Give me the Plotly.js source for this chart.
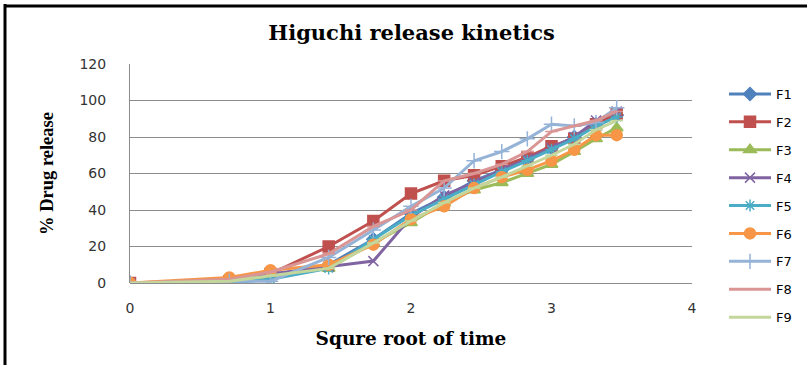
<!DOCTYPE html>
<html>
<head>
<meta charset="utf-8">
<script src="https://cdn.plot.ly/plotly-3.0.1.min.js"></script>
<style>
  html, body { margin: 0; padding: 0; background: #fff; }
  #chart { width: 807px; height: 365px; }
</style>
</head>
<body>
<div id="chart"></div>
<script>
// Square root of sampling time
const sqrtTime = [0, 0.707, 1, 1.414, 1.732, 2, 2.236, 2.449, 2.646, 2.828, 3, 3.162, 3.317, 3.464];

// Cumulative % drug release per formulation
const F1 = [0, 1, 4, 10, 24, 38, 47, 56, 62, 68, 74, 80, 87, 92];
const F2 = [0, 1, 5, 20, 34, 49, 56, 59, 64, 69, 75, 79, 87, 93];
const F3 = [0, 0, 4, 8, 22, 33, 44, 51, 55, 60, 65, 72, 79, 85];
const F4 = [0, 1, 5, 9, 12, 36, 48, 55, 62, 68, 74, 80, 89, 94];
const F5 = [0, 0, 2, 8, 24, 37, 46, 54, 61, 67, 73, 79, 86, 91];
const F6 = [0, 3, 7, 10, 21, 35, 42, 52, 58, 62, 67, 73, 81, 81];
const F7 = [0, 1, 1, 14, 29, 42, 52, 67, 72, 79, 87, 86, 88, 96];
const F8 = [0, 2, 6, 16, 31, 40, 56, 60, 65, 72, 83, 86, 89, 94];
const F9 = [0, 1, 4, 8, 22, 34, 44, 52, 58, 64, 70, 76, 84, 89];

const seriesNames = ['F1', 'F2', 'F3', 'F4', 'F5', 'F6', 'F7', 'F8', 'F9'];
const seriesData = [F1, F2, F3, F4, F5, F6, F7, F8, F9];

const styles = [
  { color: '#4F81BD', symbol: 'diamond', size: 10 },
  { color: '#C0504D', symbol: 'square', size: 11 },
  { color: '#9BBB59', symbol: 'triangle-up', size: 11 },
  { color: '#8064A2', symbol: 'x-thin-open', size: 10 },
  { color: '#4BACC6', symbol: 'asterisk-open', size: 10 },
  { color: '#F79646', symbol: 'circle', size: 11 },
  { color: '#95B3D7', symbol: 'cross-thin-open', size: 11 },
  { color: '#D99694', symbol: 'line-ew-open', size: 9 },
  { color: '#C3D69B', symbol: 'line-ew-open', size: 9 }
];

const traces = seriesNames.map((name, i) => ({
  type: 'scatter',
  mode: 'lines+markers',
  name: name,
  legendgroup: name,
  x: sqrtTime,
  y: seriesData[i],
  line: { color: styles[i].color, width: 3 },
  marker: {
    color: styles[i].color,
    symbol: styles[i].symbol,
    size: styles[i].size,
    line: { color: styles[i].color, width: 1.5 }
  }
}));

// Outer frame (left and top edges) in paper coordinates
const L = 130, T = 64, W = 562, H = 219;
const px = p => (p - L) / W;
const py = p => (T + H - p) / H;

const layout = {
  width: 807,
  height: 365,
  margin: { l: L, r: 807 - L - W, t: T, b: 365 - T - H, autoexpand: false },
  paper_bgcolor: '#ffffff',
  plot_bgcolor: '#ffffff',
  showlegend: true,
  title: {
    text: '<b>Higuchi release kinetics</b>',
    font: { family: 'DejaVu Serif', size: 21, color: '#000' },
    x: 0.51, xanchor: 'center',
    y: 0.91, yanchor: 'middle', yref: 'container'
  },
  xaxis: {
    range: [0, 4],
    dtick: 1,
    tick0: 0,
    showgrid: false,
    zeroline: false,
    showline: false,
    ticks: '',
    ticklabelstandoff: 15,
    tickfont: { family: 'DejaVu Sans', size: 14, color: '#333' },
    title: {
      text: '<b>Squre root of time</b>',
      font: { family: 'DejaVu Serif', size: 18.5, color: '#000' },
      standoff: 17
    }
  },
  yaxis: {
    range: [0, 120],
    dtick: 20,
    tick0: 0,
    showgrid: true,
    gridcolor: '#8c8c8c',
    gridwidth: 1,
    zeroline: true,
    zerolinecolor: '#8c8c8c',
    zerolinewidth: 1,
    showline: true,
    linecolor: '#8c8c8c',
    linewidth: 1,
    ticks: '',
    ticklabelstandoff: 20,
    tickfont: { family: 'DejaVu Sans', size: 14, color: '#333' },
    title: {
      text: '<b>% Drug release</b>',
      font: { family: 'Liberation Serif', size: 18.5, color: '#000' },
      standoff: 20
    }
  },
  legend: {
    x: px(724), xanchor: 'left',
    y: py(79), yanchor: 'top',
    bgcolor: 'rgba(0,0,0,0)',
    borderwidth: 0,
    tracegroupgap: 8,
    itemwidth: 42,
    maxheight: 400,
    font: { family: 'DejaVu Sans', size: 13, color: '#000' }
  },
  shapes: [
    { type: 'line', xref: 'paper', yref: 'paper',
      x0: px(5), x1: px(5), y0: py(4), y1: py(366),
      line: { color: '#000', width: 3 } },
    { type: 'line', xref: 'paper', yref: 'paper',
      x0: px(4), x1: px(808), y0: py(6), y1: py(6),
      line: { color: '#000', width: 3 } }
  ]
};

Plotly.newPlot('chart', traces, layout, { displayModeBar: false, staticPlot: true });
</script>
</body>
</html>
